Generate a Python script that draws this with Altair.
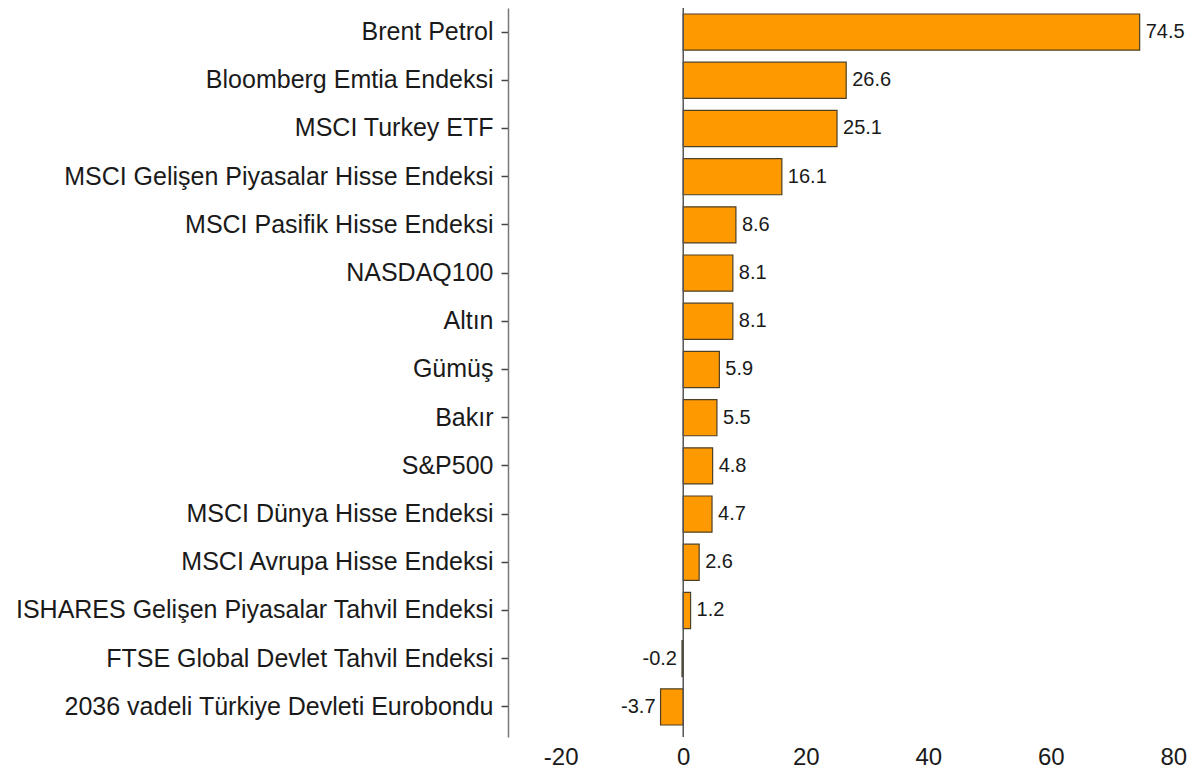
import altair as alt
import pandas as pd

categories = [
    "Brent Petrol",
    "Bloomberg Emtia Endeksi",
    "MSCI Turkey ETF",
    "MSCI Gelişen Piyasalar Hisse Endeksi",
    "MSCI Pasifik Hisse Endeksi",
    "NASDAQ100",
    "Altın",
    "Gümüş",
    "Bakır",
    "S&P500",
    "MSCI Dünya Hisse Endeksi",
    "MSCI Avrupa Hisse Endeksi",
    "ISHARES Gelişen Piyasalar Tahvil Endeksi",
    "FTSE Global Devlet Tahvil Endeksi",
    "2036 vadeli Türkiye Devleti Eurobondu",
]
values = [74.5, 26.6, 25.1, 16.1, 8.6, 8.1, 8.1, 5.9, 5.5, 4.8, 4.7, 2.6, 1.2, -0.2, -3.7]
x_ticks = [-20, 0, 20, 40, 60, 80]

df = pd.DataFrame({"cat": categories, "val": values})
df["lbl"] = df["val"].map(lambda v: f"{v:.1f}")

FONT = "Liberation Sans"
xscale = alt.Scale(domain=[-28.6, 81.9], nice=False, zero=False)
yscale = alt.Scale(paddingInner=0.25, paddingOuter=0.187, align=0.333)

base = alt.Chart(df)

bars = base.mark_bar(color="#FF9900", stroke="#4f4025", strokeWidth=1.2).encode(
    x=alt.X("val:Q", scale=xscale,
            axis=alt.Axis(values=x_ticks, title=None, domain=False, ticks=False,
                          grid=False, labelFont=FONT, labelFontSize=24,
                          labelExpr="'' + datum.value",
                          labelColor="#1a1a1a", labelPadding=8)),
    y=alt.Y("cat:N", sort=categories, scale=yscale,
            axis=alt.Axis(title=None, domain=True, domainColor="#777777", domainWidth=1.5,
                          ticks=True, tickSize=7, tickColor="#444444", tickWidth=1.5,
                          labelFont=FONT, labelFontSize=25, labelColor="#1a1a1a",
                          labelPadding=8, labelLimit=600)),
)

text_pos = base.transform_filter("datum.val >= 0").mark_text(
    align="left", baseline="middle", dx=6, font=FONT, fontSize=20, color="#1a1a1a"
).encode(x=alt.X("val:Q", scale=xscale), y=alt.Y("cat:N", sort=categories, scale=yscale), text="lbl:N")

text_neg = base.transform_filter("datum.val < 0").mark_text(
    align="right", baseline="middle", dx=-5, font=FONT, fontSize=20, color="#1a1a1a"
).encode(x=alt.X("val:Q", scale=xscale), y=alt.Y("cat:N", sort=categories, scale=yscale), text="lbl:N")

zero = alt.Chart(pd.DataFrame({"z": [0]})).mark_rule(color="#555555", strokeWidth=1.5).encode(
    x=alt.X("z:Q", scale=xscale)
)

chart = alt.layer(bars, zero, text_pos, text_neg).properties(
    width=677, height=729,
    background="white",
    autosize=alt.AutoSizeParams(type="none"),
    padding={"left": 500, "top": 0, "right": 5, "bottom": 40},
).configure_view(stroke="transparent", strokeWidth=0)

chart.save("out.html", embed_options={"renderer": "svg", "actions": False})
